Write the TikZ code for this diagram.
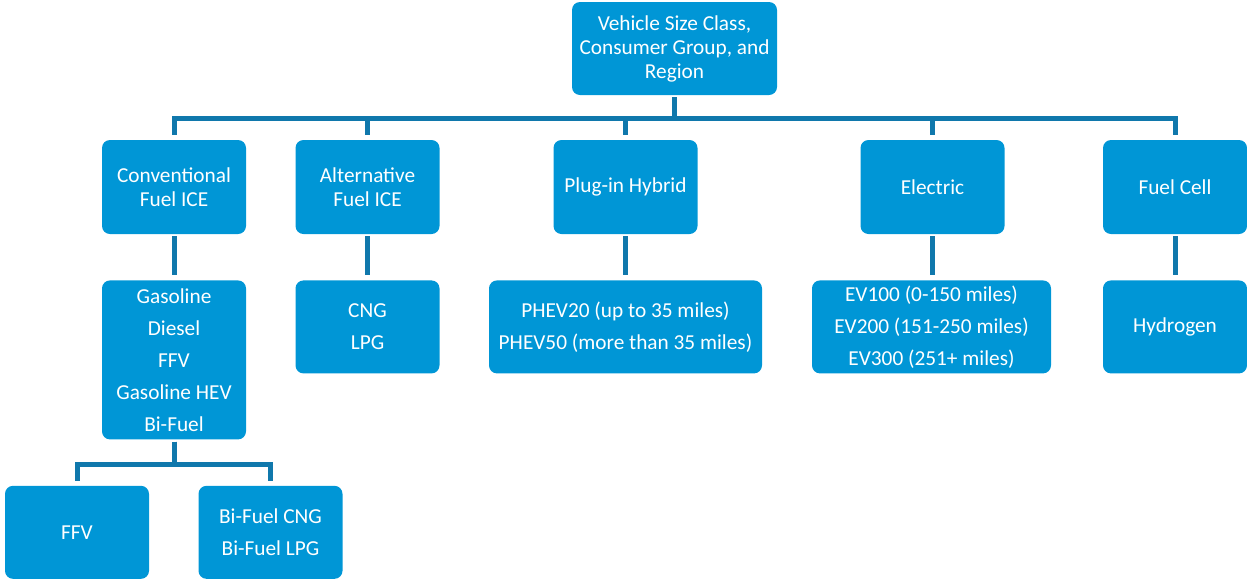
\documentclass[tikz,border=0pt]{standalone}
\usepackage{fontspec}
\setmainfont{Carlito}
\usetikzlibrary{positioning, calc}
\definecolor{boxblue}{RGB}{0,150,214}
\definecolor{lineblue}{RGB}{16,120,172}

\begin{document}
\begin{tikzpicture}[x=1pt, y=-1pt,
      node distance=46pt and 50pt,
      box/.style={rectangle, rounded corners=8pt, fill=boxblue, text=white, align=center, minimum width=144pt, minimum height=94pt, inner sep=2pt, font=\fontsize{21.3}{24}\selectfont},
      list/.style={box, minimum height=93pt, font=\fontsize{21.3}{32}\selectfont},
      link/.style={draw=lineblue, line width=5pt, shorten <=2pt, shorten >=5pt}]
      \useasboundingbox (0,0) rectangle (1247,579);
      \node[box, minimum width=205pt, minimum height=93pt] (top) at (674.5,48.5) {Vehicle Size Class,\\Consumer Group, and\\Region};
      \node[box] (conv) at (174,187) {Conventional\\Fuel ICE};
      \node[box] (alt) at (367.5,187) {Alternative\\Fuel ICE};
      \node[box] (plug) at (625.5,187) {Plug-in Hybrid};
      \node[box] (elec) at (932.5,187) {Electric};
      \node[box] (fcell) at (1175,187) {Fuel Cell};

      \node[list, minimum height=159pt] (convlist) [below=of conv] {Gasoline\\Diesel\\FFV\\Gasoline HEV\\Bi-Fuel};
      \node[list] (altlist) [below=of alt] {CNG\\LPG};
      \node[list, minimum width=273pt] (phev) [below=of plug] {PHEV20 (up to 35 miles)\\PHEV50 (more than 35 miles)};
      \node[list, minimum width=239pt] (ev) [below=of elec, xshift=-1pt] {EV100 (0-150 miles)\\EV200 (151-250 miles)\\EV300 (251+ miles)};
      \node[list] (hydro) [below=of fcell] {Hydrogen};

      \node[list] (ffv) [below=of convlist, xshift=-97pt] {FFV};
      \node[list] (bifuel) [below=of convlist, xshift=96.5pt] {Bi-Fuel CNG\\Bi-Fuel LPG};

      % tree lines
      \coordinate (bus) at (0,118);
      \coordinate (bus2) at (0,464);
      \foreach \n in {conv, alt, plug, elec, fcell}
        \draw[link] (top.south) |- (bus -| \n.north) -- (\n.north);
      \foreach \a/\b in {conv/convlist, alt/altlist, plug/phev, elec/ev, fcell/hydro}
        \draw[link] (\a.south) -- (\a.south |- \b.north);
      \foreach \n in {ffv, bifuel}
        \draw[link] (convlist.south) |- (bus2 -| \n.north) -- (\n.north);
\end{tikzpicture}
\end{document}
